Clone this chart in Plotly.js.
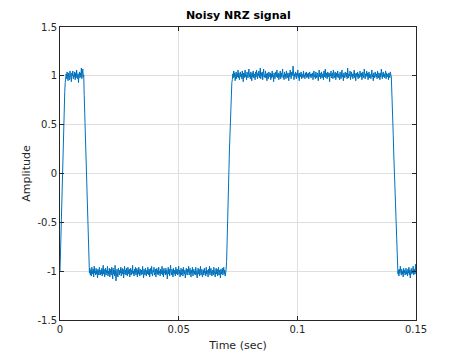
<!DOCTYPE html>
<html>
<head>
<meta charset="utf-8">
<script src="https://cdn.plot.ly/plotly-3.0.1.min.js"></script>
<style>html,body{margin:0;padding:0;background:#fff;}#chart{width:460px;height:360px;}</style>
</head>
<body>
<div id="chart"></div>
<script>
// Sampling
var sampleRate = 5000; // samples per second

// Amplitude samples, segment by segment
var riseStart = [-1.00,-0.80,-0.66,-0.45,-0.22,0.02,0.28,0.45,0.58,0.72,0.84,0.93,0.98];
var high1 = [1.02,0.97,1.04,0.99,0.95,1.03,1.01,0.96,1.05,0.98,
  1.02,0.94,1.03,1.00,1.05,0.97,1.01,0.99,1.04,0.96,
  1.03,0.98,1.06,1.00,0.97,1.02,0.93,1.01,1.04,0.98,
  1.03,0.99,1.08,0.97,1.02,1.07,0.99,1.01];
var fall1 = [0.80,0.62,0.46,0.30,0.10,-0.10,-0.28,-0.45,-0.62,-0.78,-0.90];
var low1 = [-1.02,-0.97,-1.04,-0.99,-1.05,-0.96,-1.01,-1.03,-0.98,-1.06,
  -0.95,-1.02,-1.00,-1.04,-0.97,-1.03,-0.99,-1.07,-0.98,-1.01,
  -1.04,-0.96,-1.02,-1.04,-0.99,-1.03,-0.97,-1.05,-1.00,-0.94,
  -1.03,-0.98,-1.06,-1.01,-0.97,-1.04,-0.99,-1.02,-0.95,-1.05,
  -1.00,-1.03,-0.97,-1.06,-0.98,-1.02,-1.04,-0.96,-1.01,-1.08,
  -0.97,-1.03,-0.99,-1.05,-0.94,-1.02,-1.10,-1.04,-0.98,-1.03,
  -1.06,-0.97,-1.01,-1.04,-0.99,-1.02,-0.96,-1.05,-1.00,-0.97,
  -1.03,-0.98,-1.07,-1.01,-0.95,-1.03,-0.99,-1.04,-0.97,-1.02,
  -1.05,-0.96,-1.01,-1.03,-0.98,-1.06,-1.00,-0.97,-1.04,-0.99,
  -1.02,-0.94,-1.03,-1.00,-1.05,-0.98,-1.02,-0.96,-1.04,-1.01,
  -0.97,-1.06,-0.99,-1.03,-0.96,-1.02,-1.05,-0.98,-1.01,-1.04,
  -0.99,-1.03,-0.95,-1.02,-1.07,-0.98,-1.00,-1.04,-0.97,-1.02,
  -1.05,-0.99,-1.03,-0.96,-1.01,-1.04,-0.98,-1.06,-1.00,-0.97,
  -1.03,-0.95,-1.02,-1.05,-0.99,-1.01,-0.96,-1.04,-1.02,-0.98,
  -1.06,-1.00,-0.97,-1.03,-0.99,-1.04,-0.96,-1.02,-1.00,-1.05,
  -0.98,-1.03,-1.01,-0.95,-1.04,-0.99,-1.06,-0.97,-1.02,-1.00,
  -1.04,-0.97,-1.03,-0.99,-1.08,-1.01,-0.96,-1.03,-0.98,-1.05,
  -1.00,-0.94,-1.02,-1.04,-0.98,-1.01,-1.06,-0.97,-1.03,-0.99,
  -1.02,-1.05,-0.96,-1.01,-1.03,-0.98,-1.04,-1.00,-0.95,-1.03,
  -0.99,-1.06,-1.01,-0.97,-1.04,-1.02,-0.98,-1.05,-0.96,-1.01,
  -1.03,-0.99,-1.07,-1.00,-0.97,-1.02,-1.04,-0.98,-1.01,-0.95,
  -1.04,-1.00,-0.97,-1.03,-1.06,-0.99,-1.02,-0.96,-1.05,-1.01,
  -0.98,-1.03,-1.00,-1.04,-0.96,-1.02,-0.99,-1.07,-1.01,-0.97,
  -1.03,-0.98,-1.05,-1.00,-0.95,-1.04,-1.01,-0.98,-1.06,-1.02,
  -0.99,-1.04,-0.97,-1.02,-1.00,-1.05,-0.96,-1.03,-0.99,-1.01,
  -1.06,-0.98,-1.02,-0.95,-1.04,-1.00,-0.97,-1.03,-1.05,-0.99,
  -1.01,-1.04,-0.96,-1.02,-0.99,-1.06,-1.00,-0.97,-1.03,-0.98,
  -1.05,-1.01,-0.96,-1.04,-0.99,-1.02,-1.07,-0.98,-1.03,-1.00,
  -0.97,-1.04,-1.01,-0.96,-1.03,-0.99,-1.05,-1.02,-0.98];
var rise2 = [-0.90,-0.75,-0.55,-0.35,-0.15,0.05,0.25,0.42,0.58,0.72,0.84,0.93];
var high2 = [0.96,1.02,0.98,1.05,0.99,1.03,0.95,1.01,1.04,0.97,
  1.02,0.99,1.06,0.98,1.03,0.96,1.01,1.04,0.99,1.02,
  0.97,1.05,1.00,0.94,1.03,0.98,1.02,1.06,0.99,1.01,
  0.96,1.04,1.00,0.98,1.03,1.07,0.99,1.02,0.97,1.04,
  1.01,0.95,1.03,0.99,1.05,0.98,1.02,1.00,0.96,1.04,
  0.99,1.06,1.01,0.97,1.03,1.00,1.05,0.98,1.02,1.08,
  0.97,1.03,1.00,1.04,0.96,1.02,1.07,0.99,1.01,0.98,
  1.05,0.98,1.02,0.95,1.03,1.00,0.97,1.04,1.01,0.99,
  1.03,0.96,1.02,0.98,1.05,0.99,1.01,0.94,1.03,1.00,
  0.97,1.04,1.02,0.99,1.06,0.98,1.01,1.03,0.96,1.02,
  1.00,1.05,0.97,1.03,0.99,1.02,1.07,0.98,1.01,0.96,
  1.04,0.99,1.02,0.97,1.05,1.00,0.98,1.03,1.01,0.95,
  1.03,0.99,1.06,1.01,0.97,1.04,1.00,1.02,1.10,1.05,
  0.96,1.02,0.99,1.04,1.01,0.97,1.03,1.00,1.06,0.98,
  1.02,0.95,1.03,0.99,1.01,1.04,0.97,1.02,1.00,0.98,
  1.05,0.99,1.01,0.97,1.03,1.00,1.04,0.98,1.02,0.99,
  1.03,0.97,1.01,1.04,0.99,1.02,0.98,1.02,1.00,1.03,
  0.96,1.02,1.05,0.99,1.01,0.97,1.04,1.00,0.98,1.03,
  1.01,0.95,1.02,1.06,0.99,1.03,0.97,1.01,1.04,0.98,
  1.02,1.00,0.96,1.05,0.99,1.02,1.07,0.98,1.03,1.00,
  0.97,1.04,1.01,0.99,1.03,0.94,1.02,1.00,1.05,0.98,
  1.01,1.03,0.97,1.06,1.00,0.98,1.02,1.04,0.96,1.01,
  1.03,0.99,1.05,0.98,1.02,1.00,0.96,1.04,1.01,0.97,
  1.02,1.06,0.99,1.01,0.95,1.03,1.00,0.98,1.04,1.02,
  0.99,1.03,0.97,1.08,1.01,0.98,1.02,1.00,1.05,0.96,
  1.01,1.04,0.99,1.02,0.97,1.03,1.00,1.06,0.98,1.02,
  0.95,1.03,1.01,0.99,1.04,0.97,1.02,1.00,0.98,1.05,
  1.02,0.99,1.03,0.96,1.01,1.04,1.00,0.98,1.07,1.01,
  0.97,1.02,1.00,1.05,0.99,1.03,0.96,1.01,1.04,0.98,
  1.02,1.00,0.97,1.03,1.06,0.99,1.01,0.95,1.03,1.00,
  0.98,1.04,1.01,0.99,1.02,0.97,1.05,1.00,0.98,1.03,
  1.01,0.96,1.03,0.99,1.07,1.00,0.97,1.02,1.04,0.99,
  1.02,0.98,1.01,1.05,0.97,1.03,1.00,0.99,1.02,0.96,
  1.03,1.00,0.98,1.04,1.01,0.99];
var fall2 = [0.88,0.75,0.58,0.40,0.22,0.05,-0.10,-0.25,-0.41,-0.57,-0.74,-0.90];
var low2 = [-0.96,-1.03,-0.99,-1.05,-0.98,-1.02,-0.95,-1.01,-1.04,-0.98,
  -1.03,-1.00,-1.06,-0.97,-1.02,-0.99,-1.04,-1.01,-0.97,-1.03,
  -1.00,-1.05,-0.98,-1.02,-0.96,-1.04,-0.99,-1.07,-1.01,-0.97,
  -1.03,-0.99,-1.02,-0.95,-1.04,-1.00,-0.98,-1.03,-0.93,-1.01];

// Axis ticks
var xTickVals = [0, 0.05, 0.1, 0.15];
var xTickText = ['0', '0.05', '0.1', '0.15'];
var yTickVals = [-1.5, -1, -0.5, 0, 0.5, 1, 1.5];
var yTickText = ['-1.5', '-1', '-0.5', '0', '0.5', '1', '1.5'];

var amplitude = [].concat(riseStart, high1, fall1, low1, rise2, high2, fall2, low2);
var time = amplitude.map(function (_, i) { return i / sampleRate; });

var axisColor = '#262626';
var gridColor = '#dfdfdf';
var fontFam = 'DejaVu Sans, Liberation Sans, sans-serif';

var trace = {
  x: time,
  y: amplitude,
  type: 'scatter',
  mode: 'lines',
  line: { color: '#0072BD', width: 1 },
  hoverinfo: 'skip'
};

var axisCommon = {
  showline: true,
  linecolor: axisColor,
  linewidth: 1,
  mirror: 'ticks',
  ticks: 'inside',
  ticklen: 4,
  tickcolor: axisColor,
  tickwidth: 1,
  showgrid: true,
  gridcolor: gridColor,
  gridwidth: 1,
  zeroline: false,
  tickfont: { family: fontFam, size: 10, color: axisColor },
  tickmode: 'array'
};

var layout = {
  width: 460,
  height: 360,
  margin: { l: 60, r: 44, t: 27, b: 40 },
  paper_bgcolor: '#ffffff',
  plot_bgcolor: '#ffffff',
  showlegend: false,
  title: {
    text: '<b>Noisy NRZ signal</b>',
    font: { family: fontFam, size: 11, color: '#000000' },
    x: 0.518, xanchor: 'center', y: 0.958, yanchor: 'middle'
  },
  xaxis: Object.assign({}, axisCommon, {
    range: [0, 0.15],
    tickvals: xTickVals,
    ticktext: xTickText,
    title: { text: 'Time (sec)', font: { family: fontFam, size: 11, color: axisColor }, standoff: 7 }
  }),
  yaxis: Object.assign({}, axisCommon, {
    range: [-1.5, 1.5],
    tickvals: yTickVals,
    ticktext: yTickText,
    title: { text: 'Amplitude', font: { family: fontFam, size: 11, color: axisColor }, standoff: 4 }
  })
};

Plotly.newPlot('chart', [trace], layout, { staticPlot: true, displayModeBar: false });
</script>
</body>
</html>
